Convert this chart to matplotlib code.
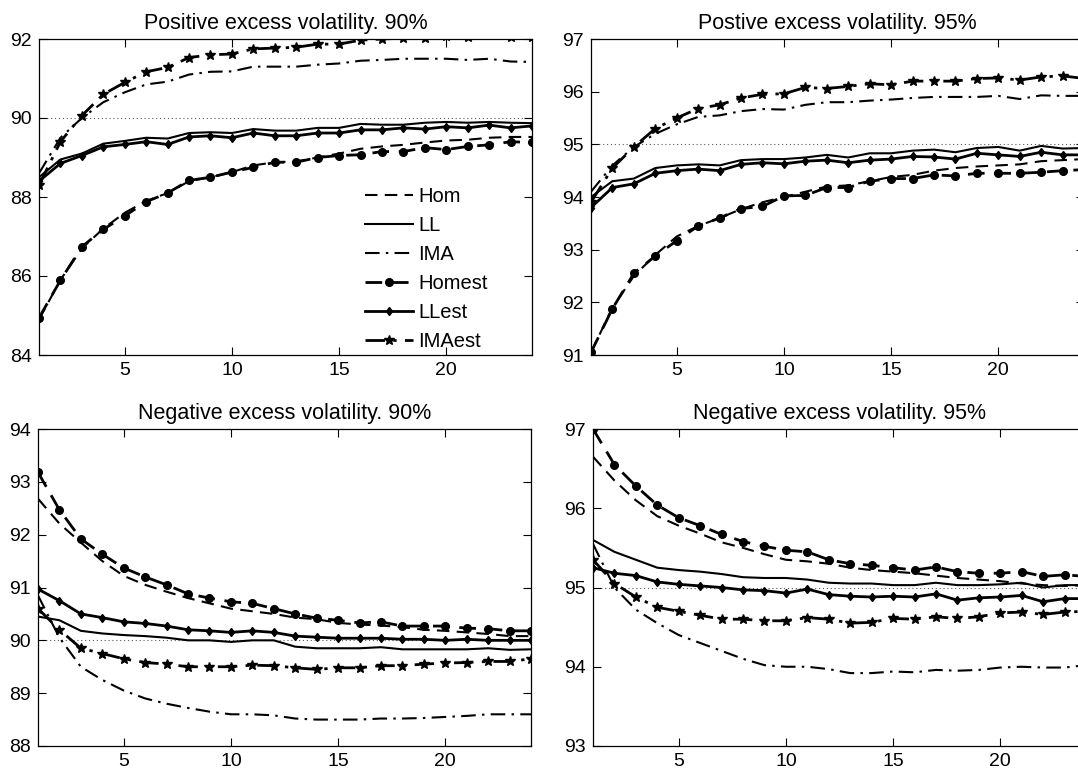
import matplotlib
matplotlib.use("Agg")
import matplotlib.pyplot as plt
import numpy as np

plt.rcParams["font.family"] = ["Liberation Sans", "DejaVu Sans"]

horizon = np.arange(1, 25)
series_names = ["Hom", "LL", "IMA", "Homest", "LLest", "IMAest"]

# --- Positive excess volatility, 90% ---
pos90_hom = [84.9, 85.9, 86.7, 87.2, 87.6, 87.9, 88.1, 88.4, 88.5, 88.63, 88.8, 88.88,
             88.9, 89.0, 89.1, 89.22, 89.28, 89.32, 89.38, 89.43, 89.45, 89.5, 89.52, 89.52]
pos90_ll = [88.5, 88.95, 89.1, 89.35, 89.42, 89.5, 89.48, 89.62, 89.64, 89.62, 89.72, 89.68,
            89.68, 89.75, 89.75, 89.85, 89.83, 89.83, 89.88, 89.9, 89.88, 89.9, 89.88, 89.87]
pos90_ima = [88.6, 89.5, 90.0, 90.4, 90.65, 90.85, 90.92, 91.1, 91.17, 91.18, 91.3, 91.3,
             91.3, 91.35, 91.38, 91.45, 91.47, 91.5, 91.5, 91.5, 91.47, 91.5, 91.43, 91.42]
pos90_homest = [84.94, 85.89, 86.74, 87.18, 87.52, 87.88, 88.1, 88.42, 88.5, 88.63, 88.75, 88.88,
                88.88, 89.0, 89.05, 89.07, 89.15, 89.15, 89.25, 89.2, 89.28, 89.32, 89.4, 89.38]
pos90_llest = [88.4, 88.85, 89.05, 89.27, 89.33, 89.4, 89.33, 89.52, 89.55, 89.5, 89.62, 89.55,
               89.55, 89.62, 89.62, 89.7, 89.7, 89.75, 89.72, 89.78, 89.75, 89.82, 89.75, 89.8]
pos90_imaest = [88.3, 89.4, 90.06, 90.6, 90.9, 91.17, 91.28, 91.53, 91.6, 91.62, 91.75, 91.77,
                91.79, 91.87, 91.87, 91.97, 92.0, 92.02, 92.02, 92.08, 92.04, 92.1, 92.06, 92.06]

# --- Positive excess volatility, 95% ---
pos95_hom = [91.05, 91.9, 92.5, 92.9, 93.25, 93.45, 93.6, 93.77, 93.9, 94.0, 94.1, 94.2,
             94.22, 94.3, 94.38, 94.42, 94.5, 94.55, 94.58, 94.6, 94.62, 94.68, 94.7, 94.72]
pos95_ll = [94.0, 94.3, 94.35, 94.55, 94.6, 94.62, 94.6, 94.7, 94.72, 94.72, 94.75, 94.8,
            94.75, 94.83, 94.83, 94.88, 94.9, 94.85, 94.93, 94.95, 94.88, 94.97, 94.92, 94.93]
pos95_ima = [94.1, 94.6, 94.95, 95.2, 95.38, 95.52, 95.55, 95.63, 95.67, 95.66, 95.75, 95.8,
             95.8, 95.83, 95.85, 95.88, 95.9, 95.9, 95.9, 95.92, 95.86, 95.93, 95.92, 95.92]
pos95_homest = [91.05, 91.88, 92.55, 92.88, 93.17, 93.45, 93.6, 93.78, 93.82, 94.02, 94.03, 94.18,
                94.18, 94.3, 94.35, 94.35, 94.42, 94.4, 94.45, 94.45, 94.45, 94.47, 94.5, 94.52]
pos95_llest = [93.8, 94.18, 94.25, 94.45, 94.5, 94.53, 94.5, 94.62, 94.65, 94.63, 94.68, 94.7,
               94.65, 94.7, 94.72, 94.77, 94.76, 94.72, 94.83, 94.8, 94.77, 94.85, 94.8, 94.8]
pos95_imaest = [93.9, 94.55, 94.95, 95.3, 95.5, 95.68, 95.75, 95.88, 95.95, 95.96, 96.08, 96.06,
                96.1, 96.15, 96.13, 96.2, 96.2, 96.2, 96.25, 96.26, 96.22, 96.28, 96.3, 96.25]

# --- Negative excess volatility, 90% ---
neg90_hom = [92.68, 92.21, 91.85, 91.5, 91.22, 91.05, 90.92, 90.8, 90.7, 90.6, 90.55, 90.5,
             90.43, 90.4, 90.33, 90.3, 90.28, 90.25, 90.2, 90.18, 90.15, 90.12, 90.08, 90.08]
neg90_ll = [90.45, 90.38, 90.18, 90.13, 90.1, 90.08, 90.05, 90.0, 90.0, 89.97, 90.0, 90.0,
            89.88, 89.85, 89.85, 89.85, 89.87, 89.83, 89.83, 89.83, 89.83, 89.85, 89.82, 89.83]
neg90_ima = [90.85, 90.05, 89.5, 89.25, 89.05, 88.9, 88.8, 88.72, 88.65, 88.6, 88.6, 88.58,
             88.52, 88.5, 88.5, 88.5, 88.52, 88.52, 88.53, 88.55, 88.57, 88.6, 88.6, 88.6]
neg90_homest = [93.18, 92.47, 91.92, 91.63, 91.37, 91.2, 91.05, 90.88, 90.8, 90.73, 90.7, 90.6,
                90.5, 90.42, 90.38, 90.33, 90.35, 90.27, 90.27, 90.27, 90.23, 90.22, 90.18, 90.18]
neg90_llest = [90.97, 90.75, 90.5, 90.43, 90.35, 90.32, 90.27, 90.2, 90.18, 90.15, 90.18, 90.15,
               90.08, 90.06, 90.04, 90.04, 90.04, 90.02, 90.02, 90.0, 90.02, 90.0, 90.0, 90.0]
neg90_imaest = [90.6, 90.2, 89.85, 89.75, 89.65, 89.58, 89.55, 89.5, 89.5, 89.5, 89.53, 89.52,
                89.48, 89.45, 89.48, 89.48, 89.52, 89.52, 89.55, 89.57, 89.58, 89.6, 89.6, 89.65]

# --- Negative excess volatility, 95% ---
neg95_hom = [96.65, 96.35, 96.1, 95.9, 95.78, 95.68, 95.57, 95.5, 95.42, 95.35, 95.33, 95.3,
             95.25, 95.22, 95.2, 95.18, 95.15, 95.12, 95.1, 95.08, 95.05, 95.03, 95.02, 95.03]
neg95_ll = [95.6, 95.45, 95.35, 95.25, 95.22, 95.2, 95.17, 95.13, 95.12, 95.12, 95.1, 95.06,
            95.05, 95.05, 95.03, 95.03, 95.06, 95.03, 95.03, 95.04, 95.06, 95.0, 95.03, 95.03]
neg95_ima = [95.55, 95.0, 94.72, 94.55, 94.4, 94.3, 94.2, 94.1, 94.02, 94.0, 94.0, 93.97,
             93.92, 93.92, 93.94, 93.93, 93.96, 93.95, 93.96, 93.99, 94.0, 93.99, 93.99, 94.02]
neg95_homest = [97.0, 96.55, 96.28, 96.04, 95.88, 95.78, 95.67, 95.58, 95.52, 95.47, 95.45, 95.35,
                95.3, 95.28, 95.25, 95.22, 95.26, 95.2, 95.18, 95.18, 95.2, 95.14, 95.16, 95.14]
neg95_llest = [95.25, 95.18, 95.15, 95.07, 95.04, 95.02, 95.0, 94.97, 94.96, 94.93, 94.98, 94.91,
               94.89, 94.88, 94.89, 94.88, 94.92, 94.84, 94.87, 94.88, 94.9, 94.82, 94.86, 94.86]
neg95_imaest = [95.35, 95.05, 94.88, 94.75, 94.7, 94.65, 94.6, 94.6, 94.58, 94.58, 94.62, 94.6,
                94.55, 94.56, 94.61, 94.6, 94.63, 94.61, 94.63, 94.68, 94.69, 94.66, 94.69, 94.7]

titles = ["Positive excess volatility. 90%", "Postive excess volatility. 95%",
          "Negative excess volatility. 90%", "Negative excess volatility. 95%"]
nominal = [90, 95, 90, 95]
y_ranges = [(84, 92), (91, 97), (88, 94), (93, 97)]
y_steps = [2, 1, 1, 1]

panels = [
    [pos90_hom, pos90_ll, pos90_ima, pos90_homest, pos90_llest, pos90_imaest],
    [pos95_hom, pos95_ll, pos95_ima, pos95_homest, pos95_llest, pos95_imaest],
    [neg90_hom, neg90_ll, neg90_ima, neg90_homest, neg90_llest, neg90_imaest],
    [neg95_hom, neg95_ll, neg95_ima, neg95_homest, neg95_llest, neg95_imaest],
]

# line styles for Hom, LL, IMA and their estimated counterparts
dash = (0, (6, 3.5))
dashdot = (0, (7, 3, 1.2, 3))
styles = [
    dict(linestyle=dash, linewidth=1.5),
    dict(linestyle="-", linewidth=1.5),
    dict(linestyle=dashdot, linewidth=1.5),
    dict(linestyle=dash, linewidth=2.0, marker="o", markersize=5.5),
    dict(linestyle="-", linewidth=2.0, marker="d", markersize=4.5),
    dict(linestyle=dashdot, linewidth=2.0, marker="*", markersize=7),
]

W, H = 1078, 769
fig = plt.figure(figsize=(W / 100, H / 100), dpi=100)
boxes = [
    (39, 39, 493, 316),
    (591, 39, 493, 316),
    (38, 429, 493, 317),
    (593, 429, 493, 317),
]

for i, (x0, y0, w, h) in enumerate(boxes):
    ax = fig.add_axes([x0 / W, 1 - (y0 + h) / H, w / W, h / H])
    ax.axhline(nominal[i], color="0.35", linestyle=(0, (1, 2.5)), linewidth=0.8, zorder=1)
    for vals, name, st in zip(panels[i], series_names, styles):
        ax.plot(horizon, vals, color="black", label=name, zorder=3, **st)
    lo, hi = y_ranges[i]
    ax.set_xlim(1, 24)
    ax.set_ylim(lo, hi)
    ax.set_xticks([5, 10, 15, 20])
    ax.set_yticks(np.arange(lo, hi + 0.01, y_steps[i]))
    ax.tick_params(direction="in", top=True, right=True, length=6, width=0.8,
                   labelsize=14, pad=5, colors="black")
    for sp in ax.spines.values():
        sp.set_linewidth(0.9)
    ax.set_title(titles[i], fontsize=15.5, pad=7.5)
    if i == 0:
        ax.legend(loc="lower left", bbox_to_anchor=(0.661, 0.012), frameon=False,
                  fontsize=14.5, handlelength=2.4, handletextpad=0.25,
                  labelspacing=0.5, borderpad=0, borderaxespad=0)

fig.savefig("out.png", dpi=100)
